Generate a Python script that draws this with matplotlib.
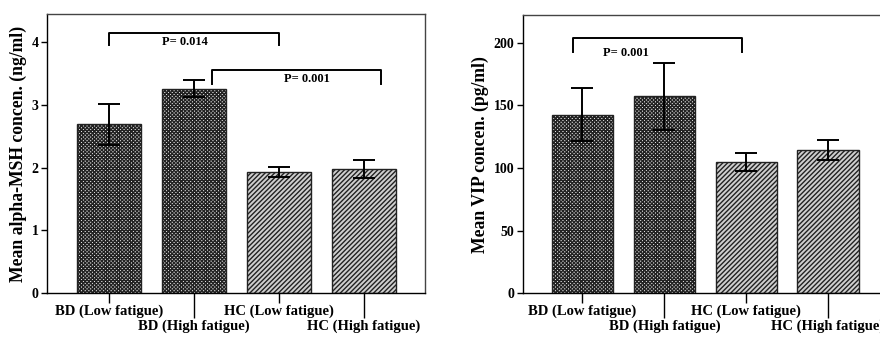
import matplotlib.pyplot as plt
import numpy as np

plt.rcParams['font.family'] = ['Liberation Serif', 'DejaVu Serif']
plt.rcParams['font.weight'] = 'bold'
plt.rcParams['hatch.linewidth'] = 1.0

groups = ['BD (Low fatigue)', 'BD (High fatigue)', 'HC (Low fatigue)', 'HC (High fatigue)']

# alpha-MSH (ng/ml)
msh_mean = [2.69, 3.26, 1.93, 1.98]
msh_err = [0.33, 0.13, 0.075, 0.14]

# VIP (pg/ml)
vip_mean = [142.5, 157.0, 104.8, 114.4]
vip_err = [21.0, 27.0, 7.3, 8.0]

fig = plt.figure(figsize=(8.8, 3.38), dpi=100)
ax1 = fig.add_axes([0.0534, 0.1331, 0.4295, 0.8254])
ax2 = fig.add_axes([0.594, 0.1322, 0.414, 0.8234])

x = np.arange(len(groups))
faces = ['#e8e8e8', '#e8e8e8', '#cfcfcf', '#cfcfcf']
hatches = ['xxxxxxxxx', 'xxxxxxxxx', '///////', '///////']


def draw(ax, means, errs, ylim, yticks, ylabel):
    for i in range(len(groups)):
        ax.bar(x[i], means[i], width=0.75, color=faces[i], hatch=hatches[i],
               edgecolor='#222222', linewidth=1)
    ax.errorbar(x, means, yerr=errs, fmt='none', ecolor='black',
                elinewidth=1.4, capsize=8, capthick=1.4)
    ax.set_xlim(-0.73, 3.72)
    ax.set_ylim(*ylim)
    ax.set_yticks(yticks)
    ax.tick_params(axis='y', length=4, width=1, labelsize=10, pad=2)
    # staggered category labels
    ax.set_xticks([0, 2])
    ax.set_xticklabels([groups[0], groups[2]])
    ax.set_xticks([1, 3], minor=True)
    ax.set_xticklabels([groups[1], groups[3]], minor=True)
    ax.tick_params(axis='x', which='major', length=7.2, width=1, labelsize=10.5, pad=1)
    ax.tick_params(axis='x', which='minor', length=18, width=1, labelsize=10.5, pad=1)
    ax.set_ylabel(ylabel, fontsize=12.7, fontweight='bold', labelpad=3)
    for s in ax.spines.values():
        s.set_linewidth(1)
    ax.spines['top'].set_color('#444444')
    ax.spines['right'].set_color('#444444')


def bracket(ax, x0, x1, ytop, ybot, label, tx, ty):
    ax.plot([x0, x0, x1, x1], [ybot, ytop, ytop, ybot], color='black', lw=1.4)
    ax.text(tx, ty, label, ha='center', va='center', fontsize=9, fontweight='bold')


draw(ax1, msh_mean, msh_err, (0, 4.45), [0, 1, 2, 3, 4], 'Mean alpha-MSH concen. (ng/ml)')
bracket(ax1, 0, 2, 4.15, 3.95, 'P= 0.014', 0.89, 4.0)
bracket(ax1, 1.21, 3.2, 3.56, 3.34, 'P= 0.001', 2.33, 3.41)

draw(ax2, vip_mean, vip_err, (0, 222), [0, 50, 100, 150, 200], 'Mean VIP concen. (pg/ml)')
bracket(ax2, -0.11, 1.95, 204, 192.8, 'P= 0.001', 0.53, 192)

fig.savefig('out.png', dpi=100)
